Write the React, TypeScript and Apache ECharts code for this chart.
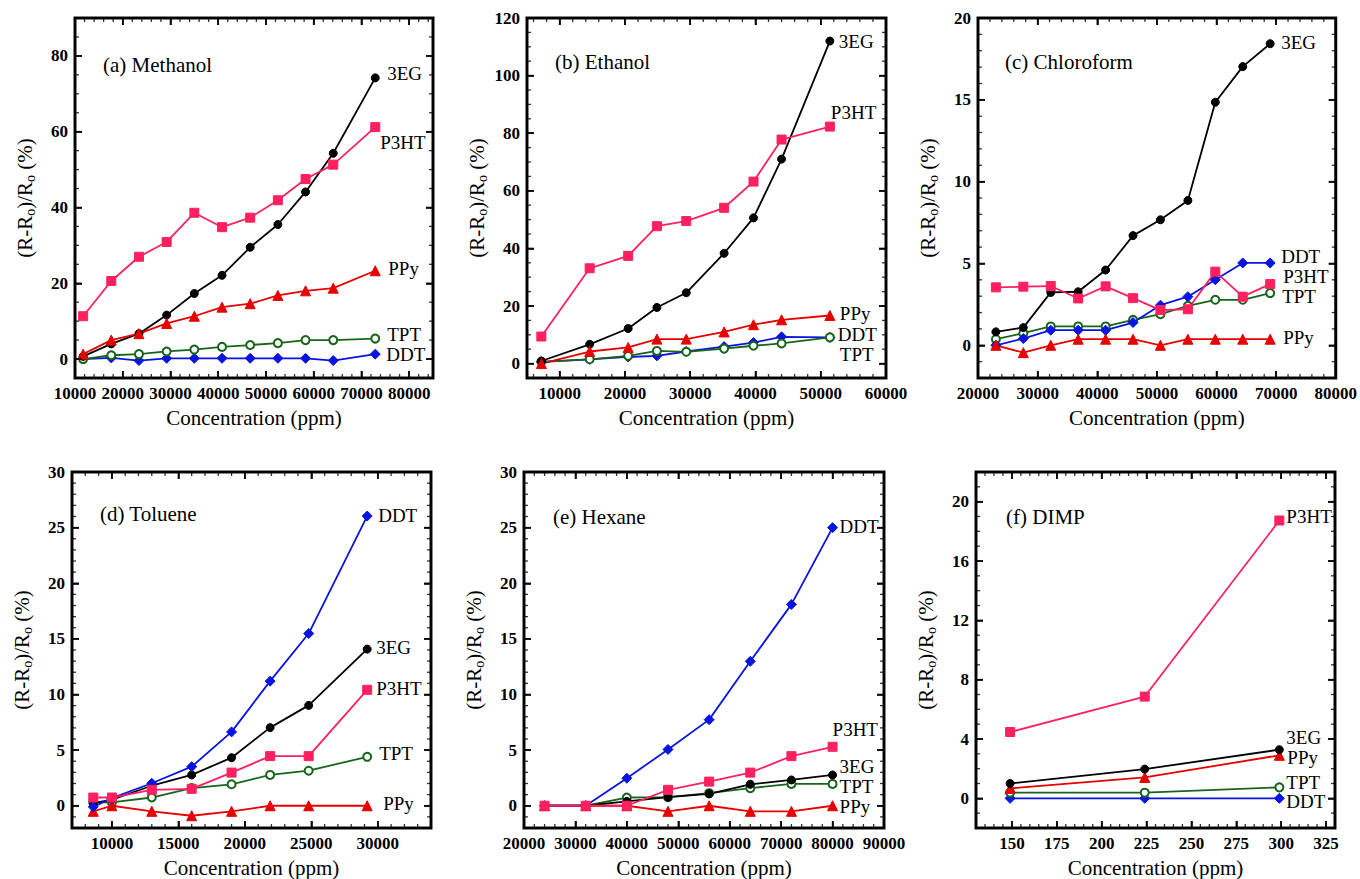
import React, { useEffect, useRef } from 'react';
import * as echarts from 'echarts';

const FONT = '"Liberation Serif", "Times New Roman", serif';
const INK = '#000000';

// ---------- (a) Methanol ----------
const methanolX = [11700, 17600, 23400, 29200, 35000, 40800, 46700, 52500, 58300, 64100, 72900];
const methanol3EG = [0.7, 4.0, 6.7, 11.6, 17.3, 22.1, 29.5, 35.5, 44.1, 54.3, 74.2];
const methanolP3HT = [11.3, 20.6, 27.0, 30.9, 38.6, 34.8, 37.3, 41.9, 47.5, 51.3, 61.2];
const methanolPPy = [1.3, 5.0, 6.7, 9.4, 11.3, 13.7, 14.6, 16.8, 18.0, 18.7, 23.3];
const methanolTPT = [0, 1.0, 1.3, 2.0, 2.5, 3.2, 3.7, 4.2, 5.0, 5.0, 5.4];
const methanolDDT = [0, 0.3, -0.4, 0.2, 0.2, 0.2, 0.2, 0.2, 0.2, -0.4, 1.3];
const methanolXTicks = [10000, 20000, 30000, 40000, 50000, 60000, 70000, 80000];
const methanolYTicks = [0, 20, 40, 60, 80];

// ---------- (b) Ethanol ----------
const ethanolX = [7200, 14600, 20500, 24900, 29400, 35200, 39700, 44000, 51400];
const ethanol3EG = [0.9, 6.7, 12.2, 19.5, 24.6, 38.3, 50.6, 71.0, 112.0];
const ethanolP3HT = [9.4, 33.1, 37.4, 47.7, 49.5, 54.1, 63.2, 77.8, 82.3];
const ethanolPPy = [0, 4.2, 5.6, 8.5, 8.5, 11.0, 13.5, 15.2, 16.7];
const ethanolDDT = [0.6, 1.5, 2.3, 2.7, 4.2, 5.9, 7.3, 9.3, 9.1];
const ethanolTPT = [0.6, 1.5, 2.7, 4.4, 4.1, 5.2, 6.2, 7.0, 9.1];
const ethanolXTicks = [10000, 20000, 30000, 40000, 50000, 60000];
const ethanolYTicks = [0, 20, 40, 60, 80, 100, 120];

// ---------- (c) Chloroform ----------
const chloroformX = [23000, 27600, 32200, 36800, 41400, 46000, 50600, 55200, 59800, 64400, 69000];
const chloroform3EG = [0.82, 1.08, 3.23, 3.27, 4.6, 6.7, 7.67, 8.85, 14.85, 17.03, 18.43];
const chloroformP3HT = [3.54, 3.58, 3.62, 2.86, 3.6, 2.88, 2.15, 2.2, 4.5, 2.97, 3.74];
const chloroformDDT = [0, 0.41, 0.92, 0.92, 0.92, 1.39, 2.45, 2.97, 4.0, 5.03, 5.03];
const chloroformTPT = [0.37, 0.74, 1.15, 1.15, 1.15, 1.55, 1.9, 2.41, 2.78, 2.78, 3.19];
const chloroformPPy = [0, -0.45, 0, 0.37, 0.37, 0.37, 0, 0.37, 0.37, 0.37, 0.37];
const chloroformXTicks = [20000, 30000, 40000, 50000, 60000, 70000, 80000];
const chloroformYTicks = [0, 5, 10, 15, 20];

// ---------- (d) Toluene ----------
const tolueneX = [8600, 10000, 13000, 16000, 19000, 21900, 24800, 29200];
const tolueneDDT = [-0.1, 0.68, 2.02, 3.51, 6.64, 11.2, 15.48, 26.04];
const toluene3EG = [0.24, 0.54, 1.8, 2.77, 4.32, 7.02, 9.02, 14.08];
const tolueneP3HT = [0.74, 0.74, 1.43, 1.52, 2.98, 4.46, 4.46, 10.42];
const tolueneTPT = [0.3, 0.3, 0.74, 1.58, 1.93, 2.77, 3.15, 4.4];
const toluenePPy = [-0.5, 0, -0.5, -0.9, -0.5, 0, 0, 0];
const tolueneXTicks = [10000, 15000, 20000, 25000, 30000];
const tolueneYTicks = [0, 5, 10, 15, 20, 25, 30];

// ---------- (e) Hexane ----------
const hexaneX = [24000, 32000, 40000, 48000, 56000, 64000, 72000, 80000];
const hexaneDDT = [0, 0, 2.47, 5.06, 7.74, 12.98, 18.1, 25.0];
const hexaneP3HT = [0, 0, 0, 1.43, 2.17, 2.98, 4.46, 5.3];
const hexane3EG = [0, 0, 0.39, 0.77, 1.07, 1.93, 2.32, 2.77];
const hexaneTPT = [0, 0, 0.74, 0.77, 1.13, 1.58, 1.96, 1.96];
const hexanePPy = [0, 0, 0, -0.5, 0, -0.5, -0.5, 0];
const hexaneXTicks = [20000, 30000, 40000, 50000, 60000, 70000, 80000, 90000];
const hexaneYTicks = [0, 5, 10, 15, 20, 25, 30];

// ---------- (f) DIMP ----------
const dimpX = [149, 224, 299];
const dimpP3HT = [4.47, 6.86, 18.73];
const dimp3EG = [1.0, 1.97, 3.28];
const dimpPPy = [0.67, 1.41, 2.9];
const dimpTPT = [0.38, 0.38, 0.74];
const dimpDDT = [0, 0, 0];
const dimpXTicks = [150, 175, 200, 225, 250, 275, 300, 325];
const dimpYTicks = [0, 4, 8, 12, 16, 20];

const STYLES: Record<string, { color: string; symbol: string; size: number }> = {
  DDT: { color: '#0a14e0', symbol: 'diamond', size: 10 },
  TPT: { color: '#17651a', symbol: 'emptyCircle', size: 8 },
  '3EG': { color: '#000000', symbol: 'circle', size: 8 },
  PPy: { color: '#e60000', symbol: 'triangle', size: 10 },
  P3HT: { color: '#ff2060', symbol: 'rect', size: 9 },
};

type S = { name: string; y: number[]; off: [number, number] };
type Panel = {
  title: string;
  tl: [number, number];
  grid: [number, number, number, number];
  x: number[];
  xr: [number, number];
  xt: number[];
  xm: number;
  yr: [number, number];
  yt: number[];
  ym: number;
  series: S[];
};

const panels: Panel[] = [
  {
    title: '(a) Methanol', tl: [103, 54], grid: [75, 18, 358, 360],
    x: methanolX, xr: [10000, 85000], xt: methanolXTicks, xm: 2000,
    yr: [-5, 90], yt: methanolYTicks, ym: 5,
    series: [
      { name: 'DDT', y: methanolDDT, off: [11, 0] },
      { name: 'TPT', y: methanolTPT, off: [12, -4] },
      { name: '3EG', y: methanol3EG, off: [12, -4] },
      { name: 'PPy', y: methanolPPy, off: [13, -2] },
      { name: 'P3HT', y: methanolP3HT, off: [5, 15] },
    ],
  },
  {
    title: '(b) Ethanol', tl: [555, 51], grid: [527, 18, 359, 360],
    x: ethanolX, xr: [5000, 60000], xt: ethanolXTicks, xm: 2000,
    yr: [-5, 120], yt: ethanolYTicks, ym: 5,
    series: [
      { name: 'DDT', y: ethanolDDT, off: [8, -3] },
      { name: 'TPT', y: ethanolTPT, off: [10, 17] },
      { name: '3EG', y: ethanol3EG, off: [9, 0] },
      { name: 'PPy', y: ethanolPPy, off: [10, -2] },
      { name: 'P3HT', y: ethanolP3HT, off: [1, -14] },
    ],
  },
  {
    title: '(c) Chloroform', tl: [1005, 51], grid: [978, 18, 358, 360],
    x: chloroformX, xr: [20000, 80000], xt: chloroformXTicks, xm: 2000,
    yr: [-2, 20], yt: chloroformYTicks, ym: 1,
    series: [
      { name: 'TPT', y: chloroformTPT, off: [12, 3] },
      { name: 'DDT', y: chloroformDDT, off: [11, -6] },
      { name: '3EG', y: chloroform3EG, off: [11, -1] },
      { name: 'PPy', y: chloroformPPy, off: [13, -2] },
      { name: 'P3HT', y: chloroformP3HT, off: [13, -8] },
    ],
  },
  {
    title: '(d) Toluene', tl: [100, 503], grid: [72, 472, 359, 358],
    x: tolueneX, xr: [7000, 34000], xt: tolueneXTicks, xm: 1000,
    yr: [-2, 30], yt: tolueneYTicks, ym: 1,
    series: [
      { name: 'TPT', y: tolueneTPT, off: [12, -3] },
      { name: '3EG', y: toluene3EG, off: [9, -2] },
      { name: 'PPy', y: toluenePPy, off: [16, -2] },
      { name: 'DDT', y: tolueneDDT, off: [11, -1] },
      { name: 'P3HT', y: tolueneP3HT, off: [9, -1] },
    ],
  },
  {
    title: '(e) Hexane', tl: [553, 506], grid: [524, 472, 360, 358],
    x: hexaneX, xr: [20000, 90000], xt: hexaneXTicks, xm: 2000,
    yr: [-2, 30], yt: hexaneYTicks, ym: 1,
    series: [
      { name: 'TPT', y: hexaneTPT, off: [7, 3] },
      { name: '3EG', y: hexane3EG, off: [7, -8] },
      { name: 'PPy', y: hexanePPy, off: [7, 1] },
      { name: 'DDT', y: hexaneDDT, off: [7, -1] },
      { name: 'P3HT', y: hexaneP3HT, off: [0, -17] },
    ],
  },
  {
    title: '(f) DIMP', tl: [1006, 506], grid: [976, 472, 359, 358],
    x: dimpX, xr: [130, 330], xt: dimpXTicks, xm: 5,
    yr: [-2, 22], yt: dimpYTicks, ym: 1,
    series: [
      { name: 'DDT', y: dimpDDT, off: [7, 3] },
      { name: 'TPT', y: dimpTPT, off: [7, -5] },
      { name: 'PPy', y: dimpPPy, off: [8, 2] },
      { name: '3EG', y: dimp3EG, off: [7, -12] },
      { name: 'P3HT', y: dimpP3HT, off: [7, -4] },
    ],
  },
];

function minors(r: [number, number], step: number, majors: number[]) {
  const out: number[] = [];
  const start = Math.ceil(r[0] / step) * step;
  for (let v = start; v <= r[1] + 1e-9; v += step) {
    const rv = Math.round(v * 1000) / 1000;
    if (!majors.some((m) => Math.abs(m - rv) < 1e-9)) out.push(rv);
  }
  return out;
}

const LABEL = {
  color: INK, fontFamily: FONT, fontSize: 17, fontWeight: 'bold' as const, margin: 7,
  formatter: (v: number) => String(v),
};
const MAJOR_LEN = 7;
const MINOR_LEN = 4;

function buildOption() {
  const grid: any[] = [];
  const xAxis: any[] = [];
  const yAxis: any[] = [];
  const series: any[] = [];
  const title: any[] = [];

  panels.forEach((p, i) => {
    grid.push({
      left: p.grid[0], top: p.grid[1], width: p.grid[2], height: p.grid[3],
      show: true, borderColor: '#101010', borderWidth: 3,
    });
    title.push({
      text: p.title, left: p.tl[0], top: p.tl[1], padding: 0,
      textStyle: { fontFamily: FONT, fontSize: 21, fontWeight: 'normal', color: INK },
    });

    const xMinor = minors(p.xr, p.xm, p.xt);
    const yMinor = minors(p.yr, p.ym, p.yt);
    const axLine = { show: true, onZero: false, lineStyle: { color: '#000000', width: 2 } };
    const majT = (vals: number[]) => ({ show: true, inside: true, length: MAJOR_LEN, customValues: vals, lineStyle: { color: '#000000', width: 1.6 } });

    xAxis.push({
      type: 'value', gridIndex: i, min: p.xr[0], max: p.xr[1], position: 'bottom',
      splitLine: { show: false },
      axisLine: axLine,
      axisTick: majT(p.xt),
      axisLabel: { ...LABEL, customValues: p.xt },
      name: 'Concentration (ppm)', nameLocation: 'middle', nameGap: 29,
      nameTextStyle: { fontFamily: FONT, fontSize: 21, color: INK },
    });
    xAxis.push({
      type: 'value', gridIndex: i, min: p.xr[0], max: p.xr[1], position: 'top',
      splitLine: { show: false }, axisLine: axLine, axisTick: majT(p.xt), axisLabel: { show: false },
    });
    yAxis.push({
      type: 'value', gridIndex: i, min: p.yr[0], max: p.yr[1], position: 'left',
      splitLine: { show: false },
      axisLine: axLine,
      axisTick: majT(p.yt),
      axisLabel: { ...LABEL, customValues: p.yt },
      name: '{n|(R-R}{s|o}{n|)/R}{s|o}{n| (%)}', nameLocation: 'middle', nameGap: 38, nameRotate: 90,
      nameTextStyle: {
        fontFamily: FONT, color: INK,
        rich: {
          n: { fontFamily: FONT, fontSize: 21, color: INK },
          s: { fontFamily: FONT, fontSize: 14, color: INK, verticalAlign: 'bottom', padding: [11, 0, 0, 0] },
        },
      },
    });
    yAxis.push({
      type: 'value', gridIndex: i, min: p.yr[0], max: p.yr[1], position: 'right',
      splitLine: { show: false }, axisLine: axLine, axisTick: majT(p.yt), axisLabel: { show: false },
    });

    const xi = 2 * i;
    const yi = 2 * i;
    const [x0, x1] = p.xr;
    const [y0, y1] = p.yr;

    series.push({
      type: 'line', name: 'frame' + i, xAxisIndex: xi, yAxisIndex: yi, clip: false, z: 4,
      data: [[x0, y0], [x1, y0], [x1, y1], [x0, y1], [x0, y0]],
      symbol: 'circle', symbolSize: 0.1, showSymbol: false,
      lineStyle: { color: INK, width: 2 },
      itemStyle: { color: INK },
    });

    const ticks: any[] = [];
    const addX = (v: number, len: number, w: number) => {
      ticks.push({ value: [v, y0], symbolSize: [w, len], symbolOffset: [0, -len / 2] });
      ticks.push({ value: [v, y1], symbolSize: [w, len], symbolOffset: [0, len / 2] });
    };
    const addY = (v: number, len: number, w: number) => {
      ticks.push({ value: [x0, v], symbolSize: [len, w], symbolOffset: [len / 2, 0] });
      ticks.push({ value: [x1, v], symbolSize: [len, w], symbolOffset: [-len / 2, 0] });
    };
    p.xt.forEach((v) => addX(v, MAJOR_LEN, 1.6));
    xMinor.forEach((v) => addX(v, MINOR_LEN, 1.3));
    p.yt.forEach((v) => addY(v, MAJOR_LEN, 1.6));
    yMinor.forEach((v) => addY(v, MINOR_LEN, 1.3));
    series.push({
      type: 'scatter', name: 'ticks' + i, xAxisIndex: xi, yAxisIndex: yi, clip: false, z: 4,
      symbol: 'rect', itemStyle: { color: INK }, data: ticks,
    });

    p.series.forEach((s) => {
      const st = STYLES[s.name];
      const isEmpty = st.symbol === 'emptyCircle';
      series.push({
        type: 'line',
        name: s.name,
        xAxisIndex: xi,
        yAxisIndex: yi,
        data: p.x.map((xv, k) => [xv, s.y[k]]),
        symbol: st.symbol,
        symbolSize: st.size,
        showAllSymbol: true,
        clip: false,
        z: 3,
        lineStyle: { color: st.color, width: 1.8 },
        itemStyle: isEmpty
          ? { color: st.color, borderColor: st.color, borderWidth: 2 }
          : { color: st.color, borderColor: st.color },
        endLabel: {
          show: true, formatter: s.name, distance: 0, offset: s.off,
          color: INK, fontFamily: FONT, fontSize: 19, lineHeight: 15,
        },
        emphasis: { disabled: true },
      });
    });
  });

  return {
    animation: false,
    backgroundColor: '#ffffff',
    textStyle: { fontFamily: FONT },
    title,
    grid,
    xAxis,
    yAxis,
    series,
  };
}

export default function App() {
  const ref = useRef<HTMLDivElement>(null);
  useEffect(() => {
    if (!ref.current) return;
    const chart = echarts.init(ref.current, undefined, { renderer: 'svg' });
    chart.setOption(buildOption() as any);
    return () => chart.dispose();
  }, []);
  return (
    <div
      ref={ref}
      style={{ position: 'absolute', left: 0, top: 0, width: 1360, height: 879, background: '#fff' }}
    />
  );
}
